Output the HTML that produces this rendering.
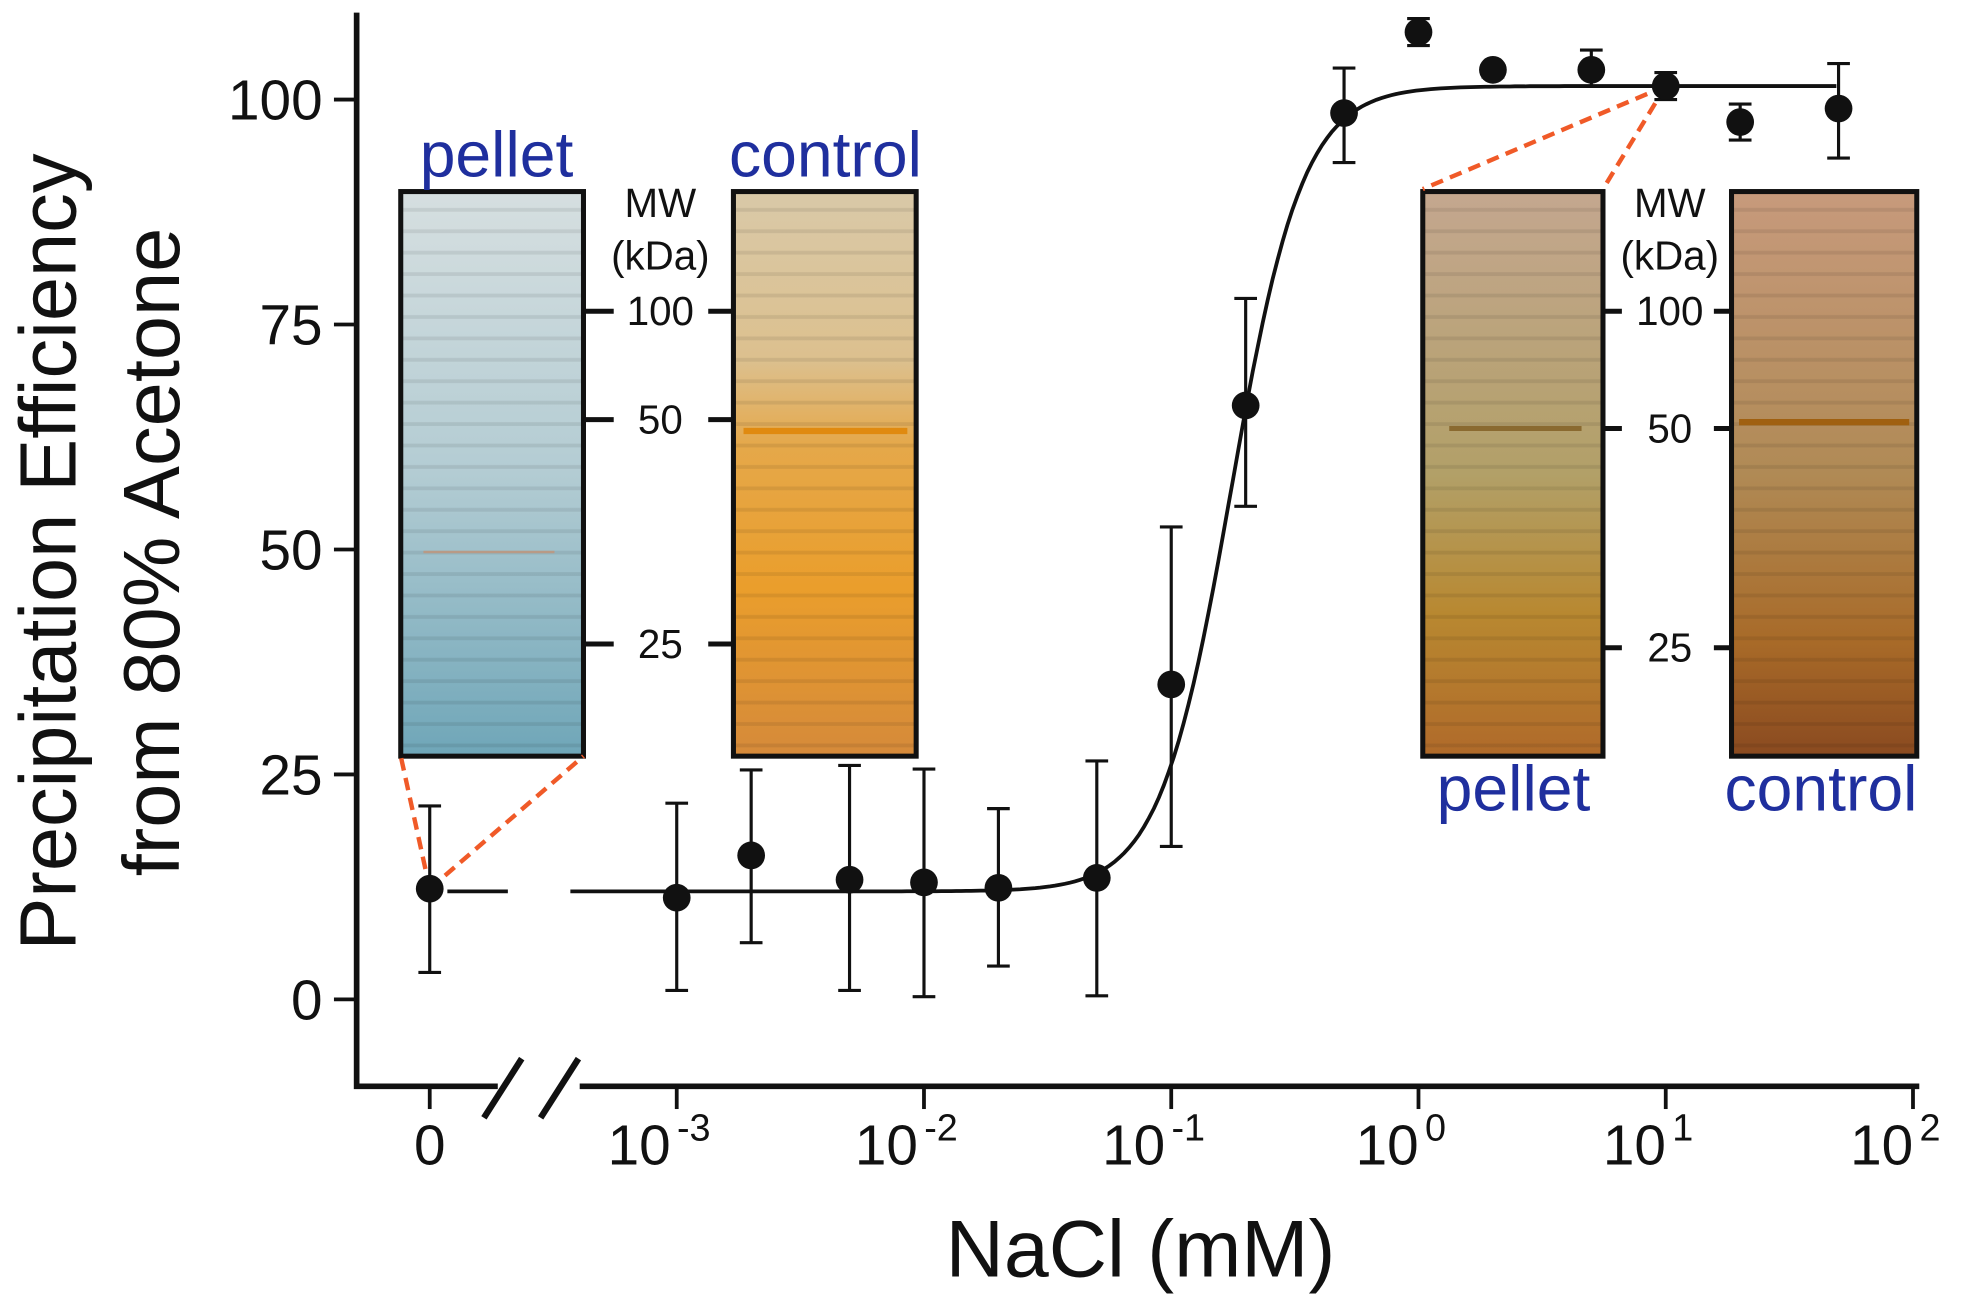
<!DOCTYPE html>
<html><head><meta charset="utf-8"><style>
html,body{margin:0;padding:0;background:#fff;}
svg{display:block;font-family:"Liberation Sans",sans-serif;}
</style></head><body>
<svg id="chart" width="1976" height="1305" viewBox="0 0 1568 1035.5" preserveAspectRatio="none" xmlns="http://www.w3.org/2000/svg">
<defs>
<linearGradient id="gPelletL" x1="0" y1="0" x2="0" y2="1">
<stop offset="0" stop-color="#d6dfe0"/><stop offset="0.5" stop-color="#b3ccd3"/><stop offset="1" stop-color="#6fa6b8"/></linearGradient>
<linearGradient id="gCtrlL" x1="0" y1="0" x2="0" y2="1">
<stop offset="0" stop-color="#d9c9a8"/><stop offset="0.3" stop-color="#dcc08e"/><stop offset="0.45" stop-color="#e5a84a"/><stop offset="0.7" stop-color="#ea9e2c"/><stop offset="1" stop-color="#d58a3a"/></linearGradient>
<linearGradient id="gPelletR" x1="0" y1="0" x2="0" y2="1">
<stop offset="0" stop-color="#c4a78f"/><stop offset="0.5" stop-color="#b2a068"/><stop offset="0.75" stop-color="#b88830"/><stop offset="1" stop-color="#b06a2a"/></linearGradient>
<linearGradient id="gCtrlR" x1="0" y1="0" x2="0" y2="1">
<stop offset="0" stop-color="#c79a7c"/><stop offset="0.5" stop-color="#b08a55"/><stop offset="0.8" stop-color="#a86a28"/><stop offset="1" stop-color="#8a4a20"/></linearGradient>
<pattern id="bands" width="10" height="17" patternUnits="userSpaceOnUse">
<rect width="10" height="3" y="12" fill="#000" opacity="0.08"/></pattern>
</defs>
<g id="gels"></g>
<g id="plot"></g>
</svg>
<script>
// ---- data ----
const xCats = ["0","0.001","0.002","0.005","0.01","0.02","0.05","0.1","0.2","0.5","1","2","5","10","20","50"];
const concentrations = [0,0.001,0.002,0.005,0.01,0.02,0.05,0.1,0.2,0.5,1,2,5,10,20,50];
const efficiency = [12.3,11.3,16,13.3,13,12.4,13.5,35,66,98.5,107.5,103.3,103.3,101.5,97.5,99];
const errLow = [3,1,6.3,1,0.3,3.7,0.4,17,54.8,93,106,102.5,101.5,100,95.5,93.5];
const errHigh = [21.5,21.8,25.5,26,25.6,21.2,26.5,52.5,77.9,103.5,109,104,105.5,103,99.5,104];
const yTicks = [0,25,50,75,100];
const xTickExps = [-3,-2,-1,0,1,2];
const fitBottom = [12];
const fitTop = [101.5];
const fitEC50 = [0.175];
const fitHill = [3];
const mwTicks = [100,50,25];
const mwLeftY = [247,333,511];
const mwRightY = [247,340,514];

// ---- axes ----
const NS="http://www.w3.org/2000/svg";
function yS(v){return 793-(793-79)*v/100;}
const X0=341, XL3=537, DEC=196.2;
function xS(c){return c===0?X0:XL3+(Math.log10(c)+3)*DEC;}
function mk(tag,attrs,parent){const e=document.createElementNS(NS,tag);for(const k in attrs)e.setAttribute(k,attrs[k]);parent.appendChild(e);return e;}
const plot=document.getElementById('plot');
const gels=document.getElementById('gels');

function gel(x,w,fill,name){
  const g=mk('g',{},gels);
  
  
  mk('rect',{x:x,y:152,width:w,height:448,fill:'url(#'+fill+')'},g);
  mk('rect',{x:x,y:152,width:w,height:448,fill:'url(#bands)'},g);
  mk('rect',{x:x,y:152,width:w,height:448,fill:'none',stroke:'#111','stroke-width':4},g);
}
gel(318,145,'gPelletL','left-pellet-gel');
gel(582,145,'gCtrlL','left-control-gel');
gel(1129,143,'gPelletR','right-pellet-gel');
gel(1374,147,'gCtrlR','right-control-gel');
mk('line',{x1:336,x2:440,y1:438,y2:438,stroke:'#c89070','stroke-width':2,opacity:0.7},gels);
mk('line',{x1:590,x2:720,y1:342,y2:342,stroke:'#e08a10','stroke-width':5},gels);
mk('line',{x1:1150,x2:1255,y1:340,y2:340,stroke:'#8a6a30','stroke-width':4},gels);
mk('line',{x1:1380,x2:1515,y1:335,y2:335,stroke:'#a06010','stroke-width':5},gels);

function txt(s,x,y,size,fill,name,anchor){
  const t=mk('text',{x:x,y:y,'font-size':size,fill:fill,'text-anchor':anchor||'middle'},plot);
  t.textContent=s;
  
  
  return t;
}
txt('pellet',394,140,51,'#1f2f9e','left-pellet-label');
txt('control',655,140,51,'#1f2f9e','left-control-label');
txt('pellet',1201,643,51,'#1f2f9e','right-pellet-label');
txt('control',1445,643,51,'#1f2f9e','right-control-label');
[[524,mwLeftY,463,487,562,582],[1325,mwRightY,1272,1287,1360,1374]].forEach((m,j)=>{
  txt('MW',m[0],172,32,'#111','mw-label');
  txt('(kDa)',m[0],214,32,'#111','kda-label');
  mwTicks.forEach((v,i)=>{
    const y=m[1][i];
    mk('line',{x1:m[2],x2:m[3],y1:y,y2:y,stroke:'#111','stroke-width':4},plot);
    mk('line',{x1:m[4],x2:m[5],y1:y,y2:y,stroke:'#111','stroke-width':4},plot);
    txt(String(v),m[0],y+11,32,'#111','mw-tick-'+v);
  });
});
[[0,318,600],[0,463,600],[13,1129,150],[13,1272,150]].forEach(d=>{
  const l=mk('line',{x1:xS(concentrations[d[0]]),y1:yS(efficiency[d[0]]),x2:d[1],y2:d[2],stroke:'#f05a28','stroke-width':3.5,'stroke-dasharray':'10 6'},plot);
  
  
});

const ax=mk('path',{d:'M283 10 V862 H1523',fill:'none',stroke:'#111','stroke-width':4.5},plot);


yTicks.forEach(v=>{
  mk('line',{x1:265,x2:283,y1:yS(v),y2:yS(v),stroke:'#111','stroke-width':3},plot);
  txt(String(v),256,yS(v)+16,45,'#111','y-tick-'+v,'end');
});
mk('line',{x1:X0,x2:X0,y1:862,y2:880,stroke:'#111','stroke-width':3},plot);
txt('0',X0,924,45,'#111','x-tick-0');
xTickExps.forEach(e=>{
  const x=XL3+(e+3)*DEC;
  mk('line',{x1:x,x2:x,y1:862,y2:880,stroke:'#111','stroke-width':3},plot);
  const t=txt('10',x-14,924,45,'#111','x-tick-1e'+e);
  const s=mk('tspan',{'font-size':30,dy:-19,dx:5},t);s.textContent=String(e);
});
mk('rect',{x:395,y:850,width:65,height:20,fill:'#fff'},plot);
mk('line',{x1:384,y1:887,x2:414,y2:840,stroke:'#111','stroke-width':5},plot);
mk('line',{x1:429,y1:887,x2:459,y2:840,stroke:'#111','stroke-width':5},plot);

const yt=txt('Precipitation Efficiency',0,0,63,'#111','y-axis-title');
yt.setAttribute('transform','translate(60,438) rotate(-90)');
const yt2=txt('from 80% Acetone',0,0,63,'#111','y-axis-title-line2');
yt2.setAttribute('transform','translate(142,438) rotate(-90)');
txt('NaCl (mM)',905,1013,64,'#111','x-axis-title');

function fit(c){return fitBottom[0]+(fitTop[0]-fitBottom[0])/(1+Math.pow(fitEC50[0]/c,fitHill[0]));}
let d='';
for(let lg=-3.43;lg<=1.71;lg+=0.02){const c=Math.pow(10,lg);d+=(d?'L':'M')+xS(c).toFixed(1)+' '+yS(fit(c)).toFixed(1);}
const fc=mk('path',{d:d,fill:'none',stroke:'#111','stroke-width':3},plot);


const zs=mk('line',{x1:355,x2:403,y1:yS(fitBottom[0]),y2:yS(fitBottom[0]),stroke:'#111','stroke-width':3},plot);



concentrations.forEach((c,i)=>{
  const x=xS(c);
  const g=mk('g',{},plot);
  
  
  mk('line',{x1:x,x2:x,y1:yS(errLow[i]),y2:yS(errHigh[i]),stroke:'#111','stroke-width':2.5},g);
  mk('line',{x1:x-9,x2:x+9,y1:yS(errLow[i]),y2:yS(errLow[i]),stroke:'#111','stroke-width':2.5},g);
  mk('line',{x1:x-9,x2:x+9,y1:yS(errHigh[i]),y2:yS(errHigh[i]),stroke:'#111','stroke-width':2.5},g);
  mk('circle',{cx:x,cy:yS(efficiency[i]),r:11,fill:'#111'},g);
});
</script>
</body></html>
